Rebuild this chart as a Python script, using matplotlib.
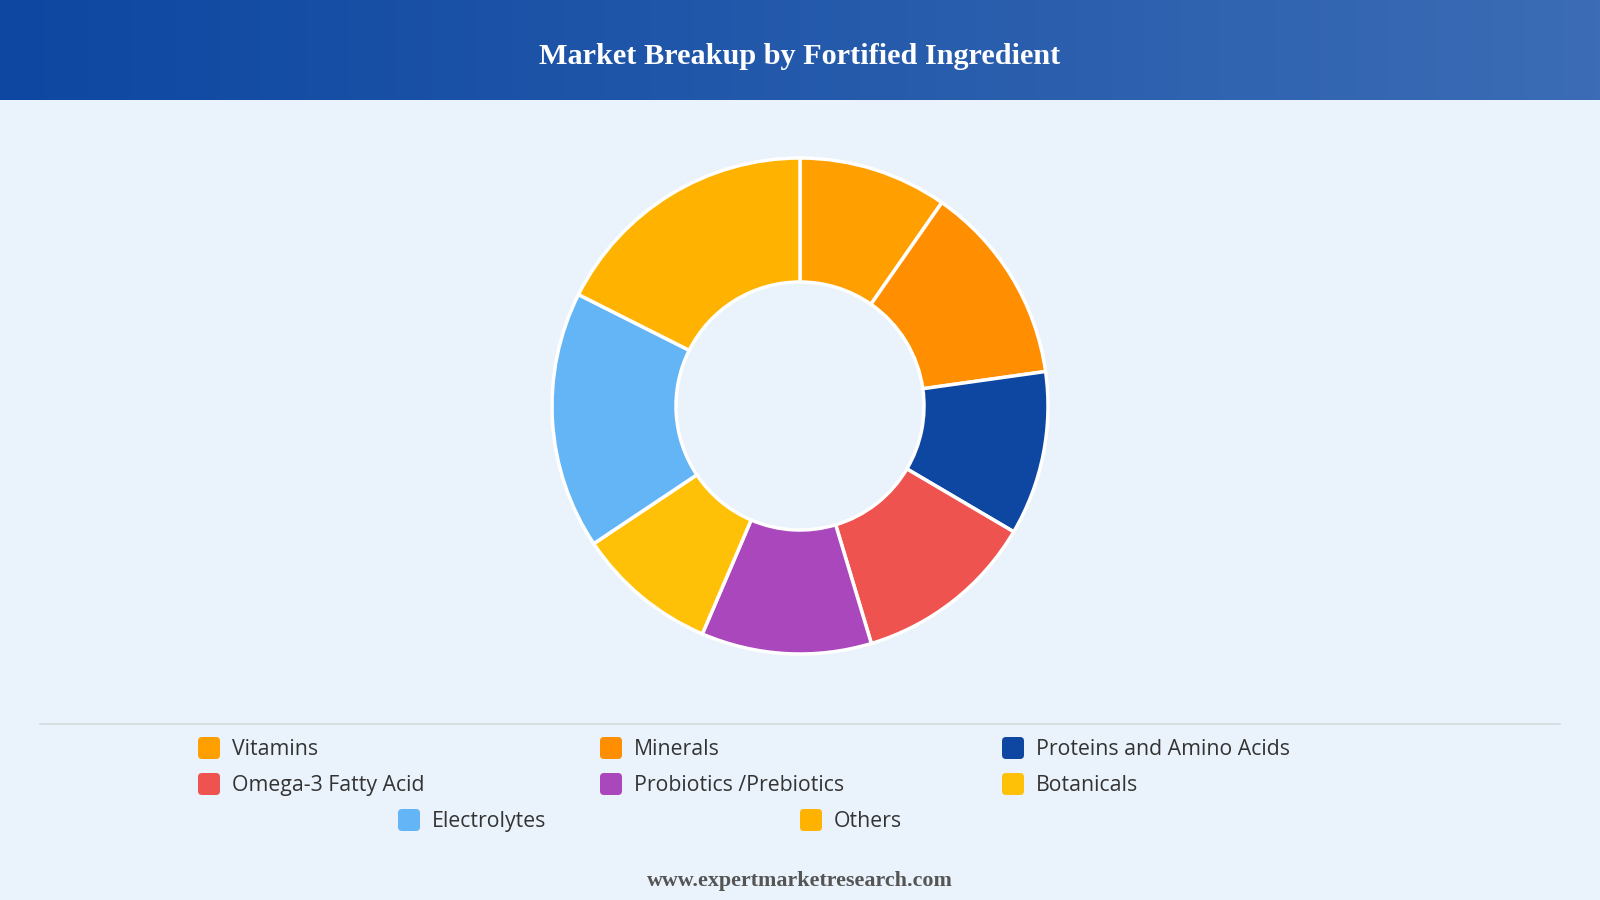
import numpy as np
import matplotlib.pyplot as plt
from matplotlib.patches import FancyBboxPatch

# data
labels = ["Vitamins", "Minerals", "Proteins and Amino Acids", "Omega-3 Fatty Acid",
          "Probiotics /Prebiotics", "Botanicals", "Electrolytes", "Others"]
shares = [9.7, 13.1, 10.7, 11.9, 11.1, 9.2, 16.8, 17.6]
colors = ["#FFA000", "#FF8F00", "#0D47A1", "#EF5350",
          "#AB47BC", "#FFC107", "#64B5F6", "#FFB300"]

title = "Market Breakup by Fortified Ingredient"
footer = "www.expertmarketresearch.com"
bg = "#EAF2FB"

W, H = 1600, 900
fig = plt.figure(figsize=(16, 9), dpi=100, facecolor=bg)

# full-figure canvas in pixel coordinates
canvas = fig.add_axes([0, 0, 1, 1])
canvas.set_xlim(0, W)
canvas.set_ylim(H, 0)
canvas.axis("off")
canvas.set_facecolor(bg)

# header gradient
grad = np.linspace(0, 1, 256).reshape(1, -1)
c0 = np.array([0x0D, 0x47, 0xA1]) / 255
c1 = np.array([0x3B, 0x6C, 0xB5]) / 255
img = c0[None, None, :] * (1 - grad[..., None]) + c1[None, None, :] * grad[..., None]
canvas.imshow(img, extent=[0, W, 100, 0], aspect="auto", zorder=1)
canvas.set_xlim(0, W)
canvas.set_ylim(H, 0)
canvas.text(W / 2, 56, title, color="white", fontsize=21.8, fontweight="bold",
            family="Liberation Serif", ha="center", va="center", zorder=2)

# divider line
canvas.plot([40, 1560], [724, 724], color="#D5D9DE", linewidth=1.2, zorder=1)

# legend, manual grid
rows = [(748, [198, 600, 1002], labels[0:3], colors[0:3]),
        (784, [198, 600, 1002], labels[3:6], colors[3:6]),
        (820, [398, 800], labels[6:8], colors[6:8])]
for y, xs, labs, cols in rows:
    for x, lab, col in zip(xs, labs, cols):
        sw = FancyBboxPatch((x, y - 11), 22, 22, boxstyle="round,pad=0,rounding_size=4",
                            facecolor=col, edgecolor="none", zorder=2)
        canvas.add_patch(sw)
        canvas.text(x + 34, y + 1.5, lab, fontsize=15.3, family="Open Sans", color="#333333",
                    ha="left", va="center", zorder=2)

canvas.text(W / 2, 881, footer, fontsize=15.8, fontweight="bold", family="Liberation Serif",
            color="#555555", ha="center", va="center", zorder=2)

# donut
cx, cy, r = 800, 406, 248
pad = 1.03
size = 2 * r * pad
ax = fig.add_axes([(cx - size / 2) / W, (H - cy - size / 2) / H, size / W, size / H])
ax.pie(shares, colors=colors, startangle=90, counterclock=False, radius=1,
       wedgeprops=dict(width=0.5, edgecolor="white", linewidth=2.5))
ax.set_xlim(-pad, pad)
ax.set_ylim(-pad, pad)
ax.set_aspect("equal")
ax.axis("off")

fig.savefig("out.png", dpi=100, facecolor=bg)
